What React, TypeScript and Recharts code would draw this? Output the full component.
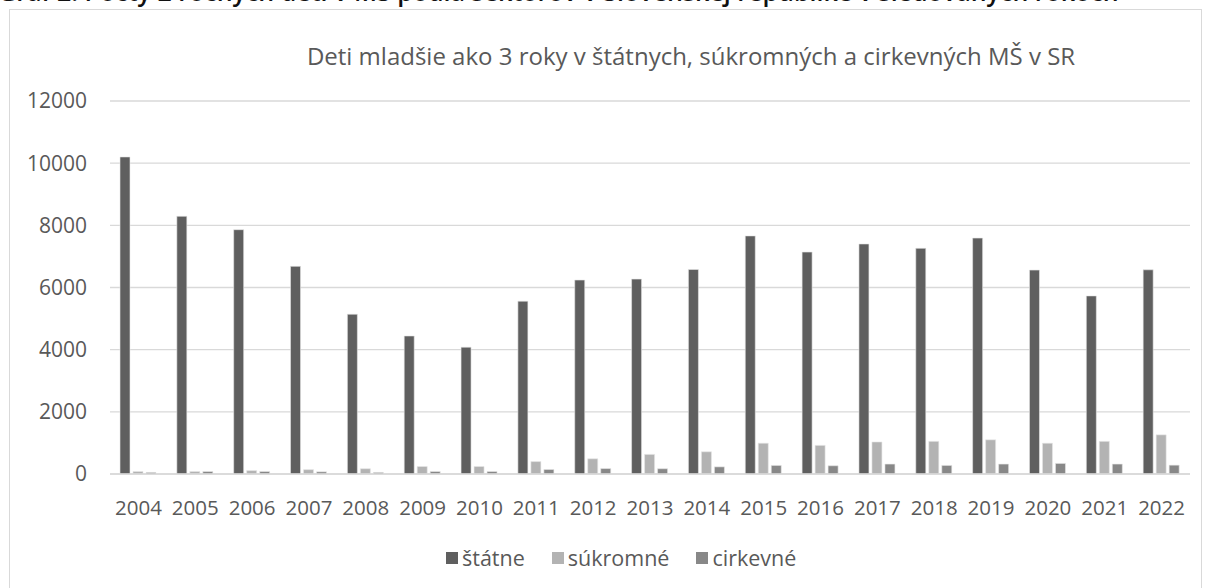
import { Bar, BarChart, CartesianGrid, XAxis, YAxis } from "recharts";

const years = [
  "2004", "2005", "2006", "2007", "2008", "2009", "2010", "2011", "2012", "2013",
  "2014", "2015", "2016", "2017", "2018", "2019", "2020", "2021", "2022",
];
const statne = [
  10200, 8290, 7860, 6680, 5140, 4440, 4080, 5560, 6240, 6270,
  6580, 7660, 7140, 7400, 7260, 7590, 6560, 5730, 6570,
];
const sukromne = [
  80, 80, 110, 140, 170, 240, 240, 400, 490, 630,
  715, 990, 920, 1030, 1050, 1100, 990, 1050, 1260,
];
const cirkevne = [
  50, 80, 80, 70, 50, 80, 80, 145, 175, 170,
  230, 275, 265, 320, 275, 320, 340, 320, 285,
];
const yTicks = [0, 2000, 4000, 6000, 8000, 10000, 12000];

const series = [
  { key: "statne", name: "štátne", color: "#5f5f5f" },
  { key: "sukromne", name: "súkromné", color: "#b3b3b3" },
  { key: "cirkevne", name: "cirkevné", color: "#888888" },
];

const data = years.map((y, i) => ({
  year: y,
  statne: statne[i],
  sukromne: sukromne[i],
  cirkevne: cirkevne[i],
}));

const FONT = "'Open Sans', sans-serif";
const INK = "#595959";

export default function App() {
  return (
    <div
      style={{
        position: "absolute",
        left: 0,
        top: 0,
        width: 1211,
        height: 588,
        overflow: "hidden",
        background: "#fff",
        fontFamily: FONT,
      }}
    >
      {/* popis grafu, zhora orezaný ako v origináli */}
      <div
        style={{
          position: "absolute",
          left: -2,
          top: -26,
          fontSize: 25,
          fontWeight: 600,
          color: "#111",
          whiteSpace: "nowrap",
        }}
      >
        Graf 2: Počty 2 ročných detí v MŠ podľa sektorov v Slovenskej republike v sledovaných rokoch
      </div>

      <div
        style={{
          position: "absolute",
          left: 9,
          top: 9,
          width: 1193,
          height: 620,
          border: "1px solid #d9d9d9",
          boxSizing: "border-box",
        }}
      />

      <div
        style={{
          position: "absolute",
          left: 691 - 500,
          width: 1000,
          top: 39,
          textAlign: "center",
          fontSize: 24,
          color: INK,
          whiteSpace: "nowrap",
        }}
      >
        Deti mladšie ako 3 roky v štátnych, súkromných a cirkevných MŠ v SR
      </div>

      <div style={{ position: "absolute", left: 0, top: 0 }}>
        <BarChart
          width={1211}
          height={588}
          data={data}
          margin={{ top: 101, right: 21, bottom: 84, left: 0 }}
          barSize={10}
          barGap={3}
        >
          <CartesianGrid vertical={false} stroke="#d9d9d9" strokeWidth={1.3} />
          <XAxis
            dataKey="year"
            axisLine={{ stroke: "#d9d9d9", strokeWidth: 1.3 }}
            tickLine={false}
            tickMargin={20}
            tick={{ fill: INK, fontSize: 20.5, fontFamily: FONT }}
            interval={0}
          />
          <YAxis
            width={110}
            domain={[0, 12000]}
            ticks={yTicks}
            axisLine={false}
            tickLine={false}
            tickMargin={17}
            tick={{ fill: INK, fontSize: 21, fontFamily: FONT }}
          />
          {series.map((s) => (
            <Bar
              key={s.key}
              dataKey={s.key}
              name={s.name}
              fill={s.color}
              stroke="#e6e6e6"
              strokeWidth={0.6}
              isAnimationActive={false}
            />
          ))}
        </BarChart>
      </div>

      <div
        style={{
          position: "absolute",
          top: 543,
          left: 446,
          display: "flex",
          gap: 27,
          fontSize: 21.5,
          color: INK,
        }}
      >
        {series.map((s) => (
          <div key={s.key} style={{ display: "flex", alignItems: "center", gap: 4 }}>
            <span style={{ width: 12, height: 12, background: s.color, display: "inline-block" }} />
            <span>{s.name}</span>
          </div>
        ))}
      </div>
    </div>
  );
}
